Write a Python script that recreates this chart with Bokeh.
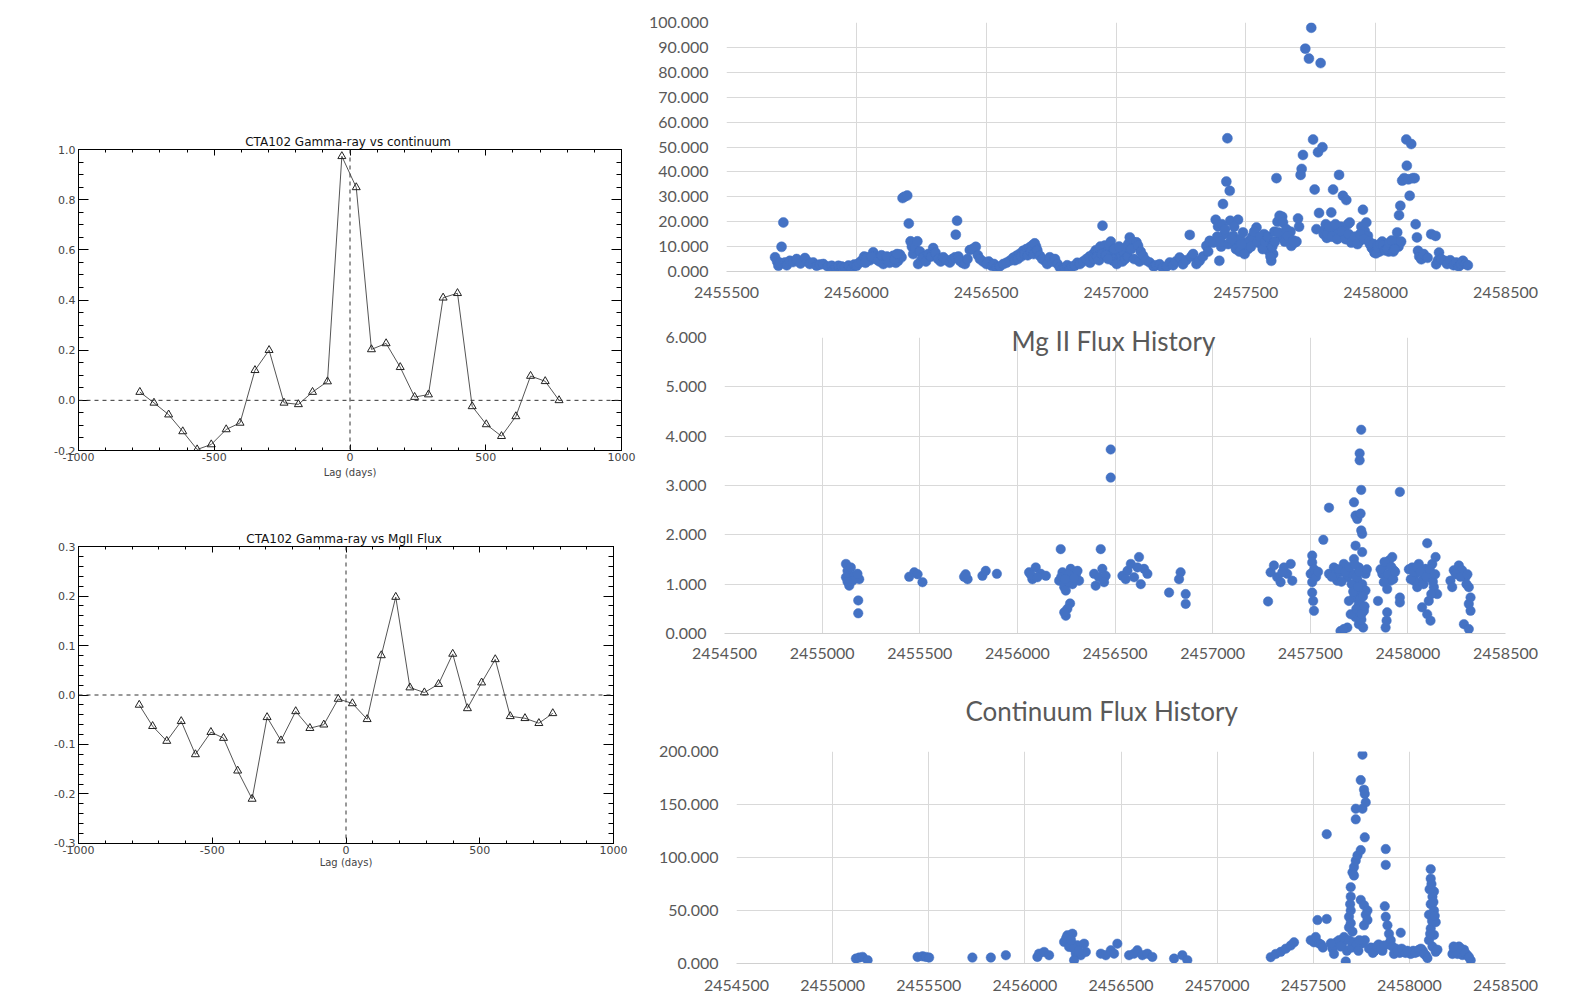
from bokeh.plotting import figure
from bokeh.models import (Range1d, LinearAxis, SingleIntervalTicker, NumeralTickFormatter,
                          Span, Spacer, CustomJSTickFormatter)
from bokeh.layouts import row, column
from bokeh.embed import file_html
from bokeh.resources import INLINE

# ---------------- data ----------------
# cross-correlation: gamma-ray vs continuum
ccf_cont_lag = [-774, -722, -668, -616, -563, -511, -456, -405, -350, -298, -243, -190, -138, -83, -30,
                23, 79, 133, 185, 238, 289, 343, 396, 450, 502, 558, 611, 665, 719, 770]
ccf_cont_val = [0.033, -0.010, -0.057, -0.124, -0.196, -0.176, -0.116, -0.090, 0.120, 0.200, -0.010, -0.016,
                0.033, 0.075, 0.973, 0.849, 0.203, 0.227, 0.132, 0.013, 0.023, 0.409, 0.427, -0.024,
                -0.096, -0.143, -0.064, 0.097, 0.076, 0.000]
# cross-correlation: gamma-ray vs Mg II
ccf_mg_lag = [-773, -723, -670, -616, -563, -505, -458, -405, -351, -295, -243, -188, -135, -83, -29,
              24, 79, 132, 186, 239, 293, 346, 399, 454, 507, 558, 614, 669, 721, 773]
ccf_mg_val = [-0.020, -0.063, -0.093, -0.053, -0.120, -0.075, -0.087, -0.153, -0.210, -0.045, -0.092, -0.033,
              -0.067, -0.060, -0.008, -0.017, -0.049, 0.080, 0.198, 0.015, 0.005, 0.022, 0.083, -0.027,
              0.025, 0.072, -0.043, -0.047, -0.057, -0.037]

# gamma-ray flux history (JD, flux)
gamma_points = [
    (2455687, 5.7), (2455695, 4.0), (2455700, 2.3), (2455706, 3.5), (2455712, 9.9), (2455719, 19.7),
    (2455725, 3.6), (2455732, 2.5), (2455744, 4.3), (2455756, 3.8), (2455770, 5.0), (2455785, 3.2),
    (2455802, 5.4), (2455812, 4.0), (2455821, 3.0), (2455834, 3.6), (2455847, 2.3), (2455860, 2.8),
    (2455873, 3.0), (2455890, 2.0), (2455905, 2.3), (2455911, 0.6), (2455920, 1.8), (2455931, 2.3),
    (2455944, 2.0), (2455956, 1.6), (2455970, 2.4), (2455982, 1.0), (2455992, 2.8), (2456001, 2.3),
    (2456010, 3.4), (2456020, 4.3), (2456030, 6.0), (2456040, 5.7), (2456052, 4.5), (2456065, 7.7),
    (2456072, 6.0), (2456078, 5.0), (2456090, 4.0), (2456104, 3.0), (2456113, 5.0), (2456123, 4.3),
    (2456133, 5.2), (2456142, 6.3), (2456152, 3.5), (2456161, 4.3), (2456168, 6.8), (2456174, 5.7),
    (2456035, 3.5), (2456058, 6.0), (2456083, 4.5), (2456097, 6.5), (2456118, 6.0), (2456128, 3.5),
    (2456147, 5.0), (2456157, 7.0),
    (2456178, 29.5), (2456185, 30.0), (2456196, 30.5), (2456202, 19.3), (2456209, 12.1), (2456214, 10.0),
    (2456219, 7.0), (2456226, 9.5), (2456235, 12.1), (2456238, 3.0), (2456245, 8.0), (2456250, 4.5),
    (2456258, 5.7), (2456268, 4.0), (2456277, 7.0), (2456288, 6.0), (2456296, 9.4), (2456305, 7.5),
    (2456315, 5.0), (2456325, 4.0), (2456335, 5.7), (2456348, 4.5), (2456360, 3.6), (2456370, 5.0),
    (2456380, 5.7), (2456383, 14.8), (2456388, 20.4), (2456393, 6.0), (2456399, 4.3), (2456408, 3.5),
    (2456418, 3.0), (2456428, 5.0), (2456437, 8.6), (2456448, 9.0), (2456460, 9.9), (2456468, 6.5),
    (2456476, 5.0), (2456488, 4.0), (2456501, 3.0), (2456510, 4.0), (2456521, 2.3), (2456530, 3.0),
    (2456540, 1.4), (2456552, 2.0), (2456566, 3.0), (2456578, 3.5), (2456591, 4.3), (2456604, 5.5),
    (2456617, 6.3), (2456628, 7.0), (2456642, 8.3), (2456655, 9.0), (2456668, 9.7), (2456678, 10.5),
    (2456610, 4.5), (2456622, 5.0), (2456635, 6.0), (2456648, 7.0), (2456660, 6.5), (2456673, 8.0),
    (2456683, 7.0), (2456692, 10.0),
    (2456687, 11.3), (2456697, 8.5), (2456707, 6.3), (2456716, 5.0), (2456726, 4.3), (2456735, 3.0),
    (2456745, 5.7), (2456755, 4.0), (2456765, 5.0), (2456775, 3.0), (2456784, 1.6), (2456793, 0.8),
    (2456803, 1.4), (2456812, 2.5), (2456822, 1.0), (2456831, 2.0), (2456841, 2.3), (2456851, 3.5),
    (2456861, 3.0), (2456873, 4.0), (2456886, 5.0), (2456898, 6.0), (2456912, 7.0), (2456922, 8.5),
    (2456931, 8.3), (2456940, 10.0), (2456948, 18.4), (2456957, 10.4), (2456966, 8.0), (2456976, 10.4),
    (2456983, 6.5), (2456989, 4.3), (2456998, 6.0), (2457008, 8.3), (2457015, 5.0), (2457021, 6.3),
    (2457030, 7.5), (2457040, 9.7), (2457047, 11.0), (2457053, 13.7), (2457065, 12.0), (2457079, 11.7),
    (2456900, 3.5), (2456915, 5.0), (2456928, 6.0), (2456935, 4.5), (2456945, 7.0), (2456960, 6.5),
    (2456970, 5.0), (2456980, 12.0), (2456993, 9.0), (2457003, 3.0), (2457012, 10.0), (2457025, 4.0),
    (2457035, 5.0), (2457045, 6.0), (2457058, 9.0), (2457070, 5.0), (2457090, 4.0),
    (2457085, 10.3), (2457095, 8.0), (2457104, 6.3), (2457115, 4.5), (2457130, 3.6), (2457145, 2.0),
    (2457155, 2.5), (2457168, 2.9), (2457180, 1.5), (2457195, 2.0), (2457207, 3.6), (2457220, 2.5),
    (2457230, 4.0), (2457245, 5.6), (2457258, 2.9), (2457270, 4.5), (2457284, 14.7), (2457290, 6.0),
    (2457297, 7.0), (2457310, 3.0), (2457322, 4.3), (2457335, 6.0), (2457348, 10.3), (2457355, 8.0),
    (2457361, 12.3), (2457374, 11.6), (2457384, 20.8), (2457393, 18.1), (2457398, 4.3), (2457405, 10.0),
    (2457412, 27.1), (2457418, 15.0), (2457425, 36.1), (2457429, 53.5), (2457438, 32.4), (2457440, 20.4),
    (2457451, 14.3), (2457458, 12.0), (2457464, 10.3), (2457470, 20.8), (2457478, 13.0), (2457489, 15.7),
    (2457500, 11.0), (2457508, 9.0), (2457515, 12.5), (2457525, 14.0), (2457541, 17.7), (2457550, 11.5),
    (2457560, 13.0), (2457570, 15.0), (2457579, 10.3), (2457590, 8.0), (2457598, 4.3), (2457605, 7.0),
    (2457390, 14.0), (2457402, 12.0), (2457408, 19.0), (2457420, 17.0), (2457432, 11.0), (2457445, 13.0),
    (2457455, 18.0), (2457462, 9.0), (2457475, 8.0), (2457483, 11.0), (2457495, 7.0), (2457520, 10.0),
    (2457532, 16.0), (2457545, 12.0), (2457555, 14.0), (2457565, 9.0), (2457575, 12.0), (2457585, 14.0),
    (2457595, 6.0), (2457602, 10.0), (2457610, 16.0), (2457622, 20.0), (2457636, 14.0), (2457640, 22.0),
    (2457668, 12.0), (2457672, 16.0), (2457695, 12.0), (2457705, 18.0),
    (2457612, 12.0), (2457618, 37.5), (2457625, 15.7), (2457630, 22.4), (2457643, 19.7), (2457650, 12.0),
    (2457656, 17.0), (2457662, 14.3), (2457675, 10.3), (2457682, 12.5), (2457688, 11.6), (2457701, 21.3),
    (2457711, 38.8), (2457715, 41.2), (2457720, 46.8), (2457729, 89.5), (2457743, 85.5), (2457752, 97.9),
    (2457759, 53.0), (2457765, 32.9), (2457772, 17.0), (2457778, 47.9), (2457782, 23.5), (2457788, 83.7),
    (2457795, 49.9), (2457800, 15.0), (2457806, 17.0), (2457812, 13.5), (2457818, 16.0), (2457824, 14.5),
    (2457829, 23.7), (2457836, 32.9), (2457842, 16.5), (2457848, 17.7), (2457855, 15.0), (2457859, 38.8),
    (2457866, 18.0), (2457874, 30.4), (2457880, 16.5), (2457887, 28.7), (2457893, 19.0), (2457900, 19.7),
    (2457906, 11.6), (2457915, 13.0), (2457925, 12.0), (2457938, 12.3), (2457945, 18.0), (2457951, 24.8),
    (2457958, 16.3), (2457964, 19.7), (2457970, 14.3), (2457978, 11.0), (2457985, 9.5), (2457990, 9.0),
    (2457808, 19.0), (2457815, 15.0), (2457822, 18.0), (2457832, 14.0), (2457845, 19.0), (2457852, 13.0),
    (2457870, 16.0), (2457884, 13.0), (2457896, 15.0), (2457910, 12.0), (2457920, 14.0), (2457930, 11.0),
    (2457940, 15.0), (2457955, 13.0), (2457975, 12.0), (2457992, 11.0), (2458005, 10.0), (2458015, 8.0),
    (2458025, 12.0), (2458040, 11.0), (2458050, 8.0), (2458058, 10.0), (2458078, 12.0), (2458088, 10.0),
    (2458098, 12.0),
    (2457996, 7.5), (2458002, 7.3), (2458010, 9.5), (2458018, 11.0), (2458028, 10.3), (2458036, 8.5),
    (2458045, 9.0), (2458054, 11.6), (2458062, 12.5), (2458068, 8.0), (2458073, 9.0), (2458083, 15.7),
    (2458090, 22.6), (2458095, 26.4), (2458102, 36.5), (2458110, 37.5), (2458118, 53.0), (2458120, 42.5),
    (2458126, 37.0), (2458131, 30.4), (2458137, 51.2), (2458143, 37.5), (2458150, 37.5), (2458154, 19.0),
    (2458159, 13.7), (2458163, 8.3), (2458168, 6.0), (2458176, 4.9), (2458185, 7.0), (2458200, 5.5),
    (2458214, 15.0), (2458231, 14.3), (2458233, 2.9), (2458240, 4.5), (2458244, 7.6), (2458252, 5.0),
    (2458265, 4.3), (2458275, 3.0), (2458287, 4.5), (2458300, 2.5), (2458310, 3.6), (2458320, 2.0),
    (2458328, 3.0), (2458336, 4.3), (2458345, 3.0), (2458355, 2.5),
]

# Mg II flux history (JD, flux)
mgii_points = [
    (2455122, 1.41), (2455130, 1.27), (2455147, 1.34), (2455122, 1.14), (2455139, 0.97), (2455164, 1.17),
    (2455190, 1.10), (2455156, 1.07), (2455181, 1.21), (2455130, 1.05), (2455185, 0.67), (2455185, 0.41),
    (2455446, 1.15), (2455472, 1.24), (2455489, 1.20), (2455514, 1.04),
    (2455727, 1.15), (2455745, 1.10), (2455735, 1.20), (2455821, 1.17), (2455838, 1.27), (2455895, 1.21),
    (2456060, 1.24), (2456077, 1.10), (2456094, 1.34), (2456120, 1.21), (2456146, 1.17), (2456069, 1.19),
    (2456103, 1.14), (2456222, 1.71), (2456214, 1.07), (2456231, 1.24), (2456240, 0.94), (2456256, 1.14),
    (2456273, 1.31), (2456282, 1.00), (2456299, 1.17), (2456316, 1.07), (2456248, 0.87), (2456265, 1.04),
    (2456308, 1.27), (2456270, 0.61), (2456256, 0.50), (2456248, 0.36), (2456240, 0.43),
    (2456225, 1.15), (2456262, 1.20), (2456290, 1.12), (2456245, 1.10),
    (2456427, 1.71), (2456393, 1.21), (2456401, 0.97), (2456418, 1.14), (2456435, 1.31), (2456452, 1.17),
    (2456444, 1.04), (2456478, 3.73), (2456478, 3.16),
    (2456538, 1.17), (2456564, 1.27), (2456581, 1.41), (2456598, 1.14), (2456623, 1.55), (2456632, 1.00),
    (2456649, 1.31), (2456666, 1.21), (2456615, 1.34), (2456555, 1.10),
    (2456777, 0.83), (2456836, 1.24), (2456828, 1.10), (2456862, 0.80), (2456862, 0.60),
    (2457284, 0.65), (2457297, 1.24), (2457314, 1.38), (2457331, 1.14), (2457348, 1.04), (2457365, 1.34),
    (2457382, 1.21), (2457400, 1.41), (2457408, 1.07), (2457357, 1.24),
    (2457510, 1.58), (2457510, 1.44), (2457502, 1.21), (2457510, 1.04), (2457510, 0.83), (2457515, 0.66),
    (2457519, 0.46), (2457567, 1.90), (2457596, 2.55),
    (2457596, 1.21), (2457621, 1.34), (2457638, 1.07), (2457655, 1.24), (2457672, 1.41), (2457690, 1.14),
    (2457630, 1.21), (2457724, 2.66), (2457732, 2.39), (2457741, 2.32), (2457758, 2.43), (2457761, 2.09),
    (2457766, 2.02), (2457761, 4.13), (2457753, 3.65), (2457753, 3.51), (2457761, 2.91),
    (2457732, 1.78), (2457766, 1.65), (2457724, 1.51), (2457749, 1.34), (2457715, 1.21), (2457741, 0.94),
    (2457766, 1.00), (2457783, 0.87), (2457724, 0.73), (2457749, 0.60), (2457775, 0.46), (2457732, 0.33),
    (2457707, 0.39), (2457749, 0.19), (2457690, 0.12), (2457655, 0.05), (2457672, 0.09), (2457771, 0.12),
    (2457698, 0.66), (2457783, 1.21), (2457741, 1.10), (2457758, 0.80), (2457736, 0.50), (2457762, 0.28),
    (2457520, 1.30), (2457530, 1.15), (2457540, 1.25), (2457610, 1.15), (2457645, 1.30), (2457660, 1.05),
    (2457680, 1.25), (2457700, 1.35), (2457712, 1.00), (2457720, 0.85), (2457728, 1.40), (2457737, 1.15),
    (2457745, 0.95), (2457752, 1.25), (2457757, 0.70), (2457763, 0.40), (2457770, 0.75), (2457778, 0.55),
    (2457790, 1.30),
    (2457847, 0.66), (2457894, 0.43), (2457886, 0.12), (2457891, 0.26), (2457959, 2.87),
    (2457869, 1.21), (2457886, 1.38), (2457903, 1.48), (2457920, 1.55), (2457928, 1.28), (2457911, 1.07),
    (2457894, 0.90), (2457877, 1.04), (2457959, 0.73), (2457959, 0.63),
    (2457860, 1.30), (2457880, 1.45), (2457898, 1.20), (2457915, 1.35), (2457925, 1.10), (2457935, 1.25),
    (2458099, 1.83), (2458022, 1.34), (2458039, 1.21), (2458056, 1.41), (2458073, 1.07), (2458090, 1.31),
    (2458107, 1.14), (2458125, 1.41), (2458142, 1.55), (2458133, 0.94), (2458107, 0.66), (2458099, 0.39),
    (2458073, 0.53), (2458116, 0.26), (2458150, 0.80), (2458048, 0.94), (2458031, 1.07), (2458082, 1.20),
    (2458005, 1.30), (2458015, 1.10), (2458030, 1.25), (2458045, 1.35), (2458065, 1.25), (2458080, 1.00),
    (2458095, 1.15), (2458112, 1.30), (2458120, 0.80), (2458128, 1.05), (2458140, 1.20),
    (2458218, 1.07), (2458235, 1.28), (2458261, 1.38), (2458278, 1.28), (2458295, 1.14), (2458312, 0.94),
    (2458321, 0.73), (2458312, 0.60), (2458321, 0.46), (2458287, 0.19), (2458312, 0.09), (2458227, 0.94),
    (2458245, 1.20), (2458270, 1.15), (2458300, 1.00), (2458305, 1.20),
]

# continuum flux history (JD, flux)
cont_points = [
    (2455121, 4.6), (2455138, 5.6), (2455156, 6.2), (2455182, 3.1),
    (2455442, 6.2), (2455468, 6.8), (2455485, 6.2), (2455502, 5.6),
    (2455727, 5.6), (2455823, 5.6), (2455901, 7.8),
    (2456065, 6.2), (2456074, 9.3), (2456100, 10.9), (2456126, 7.8),
    (2456204, 20.3), (2456221, 26.6), (2456247, 28.1), (2456230, 15.6), (2456273, 17.2), (2456308, 18.7),
    (2456265, 9.3), (2456291, 7.8), (2456256, 3.1), (2456317, 10.9),
    (2456215, 24.0), (2456240, 22.0), (2456255, 14.0), (2456280, 12.0),
    (2456395, 9.3), (2456421, 7.8), (2456447, 12.5), (2456481, 18.7), (2456464, 9.3),
    (2456542, 7.8), (2456568, 9.3), (2456585, 12.5), (2456611, 7.8), (2456637, 9.3), (2456663, 6.2),
    (2456776, 4.6), (2456819, 7.8), (2456845, 3.1),
    (2457279, 6.0), (2457305, 9.0), (2457331, 11.0), (2457357, 14.0), (2457383, 17.0), (2457400, 20.0),
    (2457487, 22.0), (2457504, 20.0), (2457513, 25.0), (2457522, 41.0), (2457530, 19.0), (2457570, 42.0),
    (2457540, 18.0), (2457550, 15.0), (2457600, 14.0), (2457620, 20.0), (2457650, 18.0), (2457675, 12.0),
    (2457570, 122.0), (2457591, 19.0), (2457608, 9.0), (2457634, 22.0), (2457643, 16.0), (2457660, 25.0),
    (2457669, 2.0), (2457686, 22.0), (2457686, 44.0), (2457686, 34.0), (2457692, 56.0), (2457695, 72.0),
    (2457695, 63.0), (2457695, 50.0), (2457695, 38.0), (2457704, 86.0), (2457704, 30.0), (2457712, 91.0),
    (2457712, 83.0), (2457721, 97.0), (2457721, 146.0), (2457721, 136.0), (2457730, 102.0), (2457747, 107.0),
    (2457747, 173.0), (2457747, 60.0), (2457756, 197.0), (2457756, 146.0), (2457756, 19.0), (2457764, 164.0),
    (2457764, 55.0), (2457764, 36.0), (2457768, 160.0), (2457768, 119.0), (2457768, 22.0), (2457773, 152.0),
    (2457773, 46.0), (2457782, 50.0), (2457782, 41.0), (2457800, 15.0), (2457820, 12.0), (2457840, 18.0),
    (2457700, 15.0), (2457710, 20.0), (2457725, 18.0), (2457735, 12.0), (2457740, 22.0), (2457790, 14.0),
    (2457810, 10.0), (2457830, 16.0), (2457860, 12.0), (2457890, 18.0), (2457930, 14.0), (2457950, 10.0),
    (2457851, 14.0), (2457868, 17.0), (2457872, 54.0), (2457877, 108.0), (2457877, 93.0), (2457877, 44.0),
    (2457886, 36.0), (2457894, 28.0), (2457903, 22.0), (2457912, 16.0), (2457920, 9.0), (2457938, 12.0),
    (2457955, 29.0), (2457960, 14.0), (2457980, 10.0), (2458007, 9.0), (2458020, 12.0), (2458042, 11.0),
    (2457990, 12.0), (2458030, 10.0), (2458050, 13.0), (2458070, 12.0),
    (2458060, 14.0), (2458076, 9.0), (2458085, 8.0), (2458094, 5.0), (2458102, 46.0), (2458102, 22.0),
    (2458111, 89.0), (2458111, 80.0), (2458111, 56.0), (2458111, 33.0), (2458120, 63.0), (2458120, 16.0),
    (2458128, 68.0), (2458128, 50.0), (2458128, 27.0), (2458137, 39.0), (2458137, 11.0), (2458146, 13.0),
    (2458105, 70.0), (2458115, 75.0), (2458118, 40.0), (2458125, 58.0), (2458132, 45.0), (2458108, 28.0),
    (2458224, 9.0), (2458232, 14.0), (2458258, 16.0), (2458276, 8.0), (2458284, 13.0), (2458301, 8.0),
    (2458319, 3.0), (2458240, 12.0), (2458250, 9.0), (2458268, 14.0), (2458290, 10.0), (2458310, 6.0),
    (2458230, 16.0),
]

gamma_jd = [p[0] for p in gamma_points]
gamma_flux = [p[1] for p in gamma_points]
mgii_jd = [p[0] for p in mgii_points]
mgii_flux = [p[1] for p in mgii_points]
cont_jd = [p[0] for p in cont_points]
cont_flux = [p[1] for p in cont_points]

# ---------------- IDL-style cross-correlation panels ----------------
IDL_FONT = "DejaVu Sans"


def idl_panel(lag, val, ymin, ymax, yint, yminor, title, mb):
    p = figure(width=640, height=mb["h"], x_range=Range1d(-1000, 1000), y_range=Range1d(ymin, ymax),
               output_backend="svg", toolbar_location=None, frame_align=False,
               min_border_left=mb["l"], min_border_right=mb["r"],
               min_border_top=mb["t"], min_border_bottom=mb["b"])
    p.grid.visible = False
    p.outline_line_color = "black"
    p.outline_line_width = 1
    p.background_fill_color = "white"

    xt = SingleIntervalTicker(interval=500, num_minor_ticks=5)
    yt = SingleIntervalTicker(interval=yint, num_minor_ticks=yminor)
    for ax in p.xaxis:
        ax.ticker = xt
        ax.formatter = NumeralTickFormatter(format="0")
        ax.major_tick_in, ax.major_tick_out = 6, 0
        ax.minor_tick_in, ax.minor_tick_out = 3, 0
        ax.major_label_standoff = 2
        ax.major_label_text_font = IDL_FONT
        ax.major_label_text_font_size = "11px"
        ax.axis_label = "Lag (days)"
        ax.axis_label_text_font = IDL_FONT
        ax.axis_label_text_font_size = "10px"
        ax.axis_label_text_font_style = "normal"
        ax.axis_label_standoff = mb["ls"]
    for ax in p.yaxis:
        ax.ticker = yt
        ax.formatter = NumeralTickFormatter(format="0.0")
        ax.major_tick_in, ax.major_tick_out = 10, 0
        ax.minor_tick_in, ax.minor_tick_out = 5, 0
        ax.major_label_standoff = 3
        ax.major_label_text_font = IDL_FONT
        ax.major_label_text_font_size = "11px"

    blank = CustomJSTickFormatter(code="return ''")
    top = LinearAxis(ticker=SingleIntervalTicker(interval=500, num_minor_ticks=5), formatter=blank,
                     major_tick_in=6, major_tick_out=0, minor_tick_in=3, minor_tick_out=0,
                     major_label_standoff=0, major_label_text_font_size="0px")
    right = LinearAxis(ticker=SingleIntervalTicker(interval=yint, num_minor_ticks=yminor), formatter=blank,
                       major_tick_in=10, major_tick_out=0, minor_tick_in=5, minor_tick_out=0,
                       major_label_standoff=0, major_label_text_font_size="0px")
    p.add_layout(top, "above")
    p.add_layout(right, "right")

    p.title.text = title
    p.title.align = "center"
    p.title.text_font = IDL_FONT
    p.title.text_font_size = "12px"
    p.title.text_font_style = "normal"
    p.title.text_color = "#111111"
    p.title.standoff = 2

    p.add_layout(Span(location=0, dimension="width", line_dash="4 4", line_color="#333333", line_width=1))
    p.add_layout(Span(location=0, dimension="height", line_dash="4 4", line_color="#333333", line_width=1))

    p.line(lag, val, line_color="#555555", line_width=1)
    p.scatter(lag, val, marker="triangle", size=8, fill_color=None, line_color="#222222", line_width=1)
    return p


f1 = idl_panel(ccf_cont_lag, ccf_cont_val, -0.2, 1.0, 0.2, 4, "CTA102  Gamma-ray vs continuum",
               dict(h=380, l=78, r=19, t=39, b=40, ls=3))
f2 = idl_panel(ccf_mg_lag, ccf_mg_val, -0.30001, 0.30001, 0.1, 5, "CTA102  Gamma-ray vs MgII Flux",
               dict(h=380, l=78, r=27, t=46, b=37, ls=0))

# ---------------- Excel-style flux history panels ----------------
BLUE = "#4472C4"
XL_FONT = "Lato"
GREY_TXT = "#595959"
GRID = "#d9d9d9"


def excel_panel(jd, flux, xr, yr, yint, h, l, t, b, size, xstand):
    p = figure(width=936, height=h, x_range=Range1d(*xr), y_range=Range1d(*yr),
               output_backend="svg", toolbar_location=None, frame_align=False,
               min_border_left=l, min_border_right=71, min_border_top=t, min_border_bottom=b)
    p.outline_line_color = None
    xt = SingleIntervalTicker(interval=500, num_minor_ticks=0)
    yt = SingleIntervalTicker(interval=yint, num_minor_ticks=0)
    p.xaxis.ticker = xt
    p.xgrid.ticker = xt
    p.yaxis.ticker = yt
    p.ygrid.ticker = yt
    p.grid.grid_line_color = GRID
    p.grid.grid_line_width = 1
    p.xaxis.formatter = NumeralTickFormatter(format="0")
    p.yaxis.formatter = NumeralTickFormatter(format="0.000")
    for ax in list(p.xaxis) + list(p.yaxis):
        ax.major_tick_line_color = None
        ax.minor_tick_line_color = None
        ax.major_tick_out = 0
        ax.major_tick_in = 0
        ax.major_label_text_font = XL_FONT
        ax.major_label_text_font_size = "16px"
        ax.major_label_text_color = GREY_TXT
    p.yaxis.axis_line_color = None
    p.yaxis.major_label_standoff = 18
    p.xaxis.axis_line_color = "#d0d0d0"
    p.xaxis.major_label_standoff = xstand
    p.scatter(jd, flux, marker="circle", size=size, fill_color=BLUE, line_color=BLUE, line_width=0.5)
    return p


def excel_title(p, text, offset, standoff):
    p.title.text = text
    p.title.align = "left"
    p.title.offset = offset
    p.title.standoff = standoff
    p.title.text_font = XL_FONT
    p.title.text_font_size = "26px"
    p.title.text_font_style = "normal"
    p.title.text_color = GREY_TXT


f3 = excel_panel(gamma_jd, gamma_flux, (2455500, 2458500), (0, 100), 10, 307, 86, 22, 36, 10, 15)
f4 = excel_panel(mgii_jd, mgii_flux, (2454500, 2458500), (0, 6), 1, 360, 84, 30, 34, 9.5, 14)
f5 = excel_panel(cont_jd, cont_flux, (2454500, 2458500), (0, 200), 50, 337, 96, 84, 41, 9.5, 16)

excel_title(f4, "Mg II Flux History", 287, -38)
excel_title(f5, "Continuum Flux History", 229, 50)

left_col = column(Spacer(width=640, height=110), f1, Spacer(width=640, height=10), f2)
right_col = column(f3, f4, f5)
layout = row(left_col, right_col)

open("out.html", "w").write(file_html(layout, INLINE))
